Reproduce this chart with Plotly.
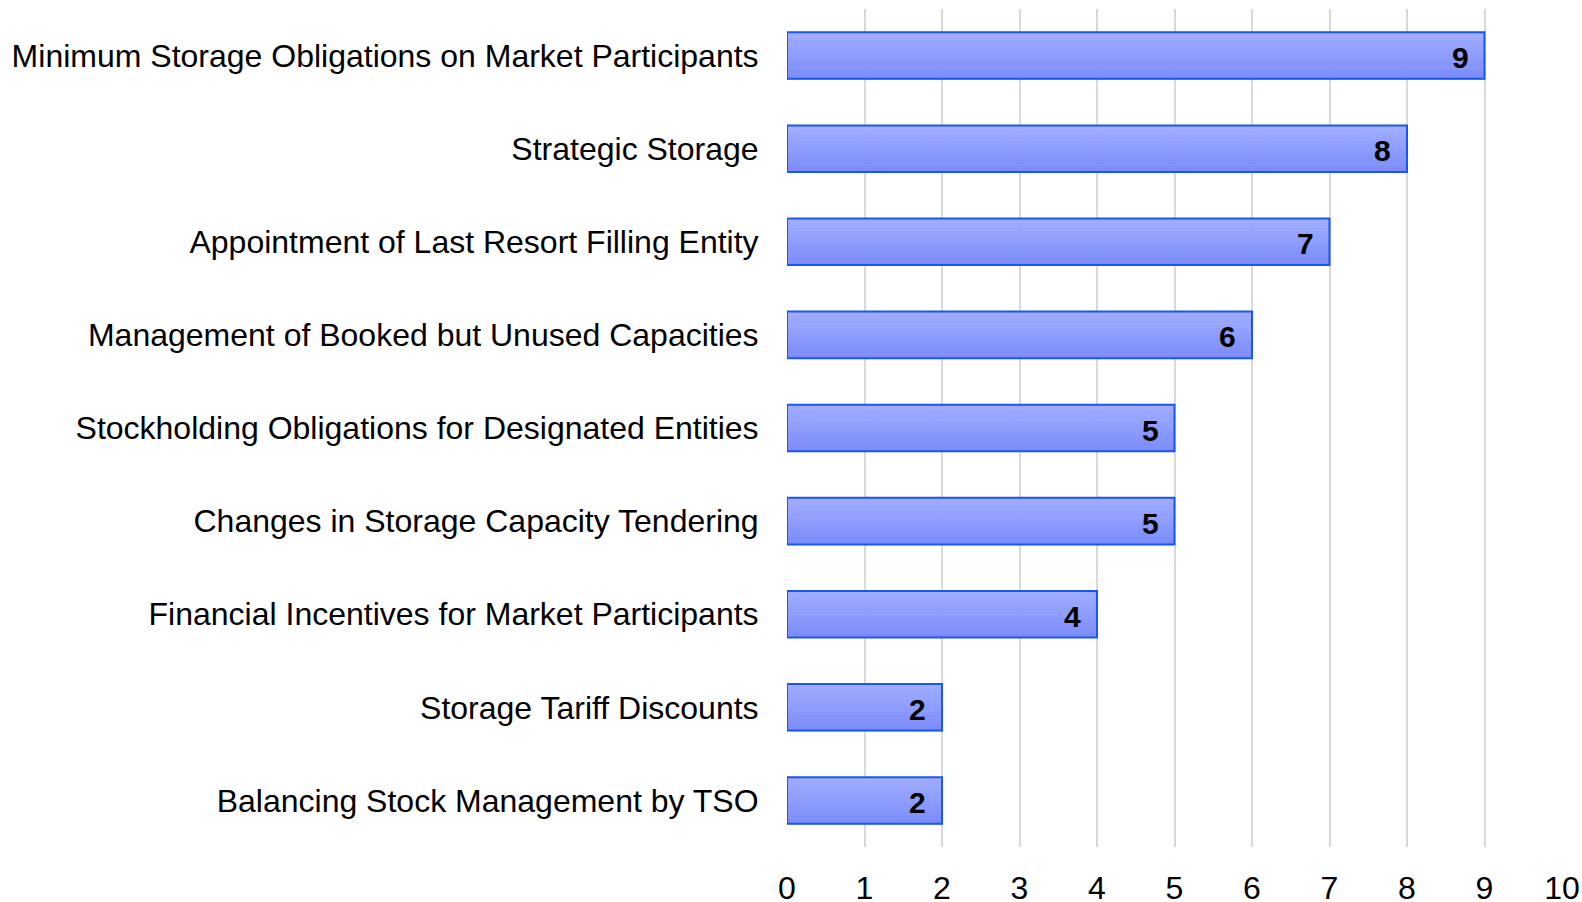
import plotly.graph_objects as go

categories = [
    "Minimum Storage Obligations on Market Participants",
    "Strategic Storage",
    "Appointment of Last Resort Filling Entity",
    "Management of Booked but Unused Capacities",
    "Stockholding Obligations for Designated Entities",
    "Changes in Storage Capacity Tendering",
    "Financial Incentives for Market Participants",
    "Storage Tariff Discounts",
    "Balancing Stock Management by TSO",
]
values = [9, 8, 7, 6, 5, 5, 4, 2, 2]
x_ticks = [0, 1, 2, 3, 4, 5, 6, 7, 8, 9, 10]

FONT = "Liberation Sans, Arial, sans-serif"
fig = go.Figure()

# gradient fill emulated with thin stacked stripes
N = 12
top = (160, 172, 255)
bot = (124, 141, 250)
bw = 0.5
for i in range(N):
    t = i / (N - 1)
    c = tuple(int(round(top[k] + (bot[k] - top[k]) * t)) for k in range(3))
    fig.add_trace(go.Bar(
        y=categories, x=values, orientation="h",
        width=bw / N * 1.15,
        offset=-bw / 2 + i * bw / N,
        marker=dict(color="rgb(%d,%d,%d)" % c, line=dict(width=0)),
        hoverinfo="skip", showlegend=False,
    ))

fig.add_trace(go.Bar(
    y=categories, x=values, orientation="h",
    width=bw, offset=-bw / 2,
    marker=dict(color="rgba(0,0,0,0)", line=dict(color="#1a56f0", width=2)),
    showlegend=False,
))

for cat, v in zip(categories, values):
    fig.add_annotation(
        x=v, y=cat, text=str(v), showarrow=False,
        xanchor="right", yanchor="middle", xshift=-14, yshift=-2,
        font=dict(family=FONT, size=30, color="black", weight="bold"),
    )

fig.update_layout(
    width=1582, height=902,
    barmode="overlay",
    plot_bgcolor="white", paper_bgcolor="white",
    margin=dict(l=787, r=20, t=9, b=55, autoexpand=False),
    font=dict(family=FONT, size=32, color="black"),
    xaxis=dict(
        range=[0, 10], tickvals=x_ticks, showgrid=True,
        gridcolor="#d9d9d9", gridwidth=2, zeroline=False, automargin=False,
        showline=False, ticks="outside", ticklen=13, tickcolor="rgba(0,0,0,0)",
        tickfont=dict(size=32),
    ),
    yaxis=dict(
        categoryorder="array", categoryarray=categories, autorange="reversed",
        showgrid=False, zeroline=False, showline=False, automargin=False,
        ticks="outside", ticklen=21, tickcolor="rgba(0,0,0,0)",
        tickfont=dict(size=32),
    ),
)

fig.write_html(
    "out.html",
    config={"displayModeBar": False},
    post_script="document.body.style.margin='0';document.documentElement.style.overflow='hidden';",
)
